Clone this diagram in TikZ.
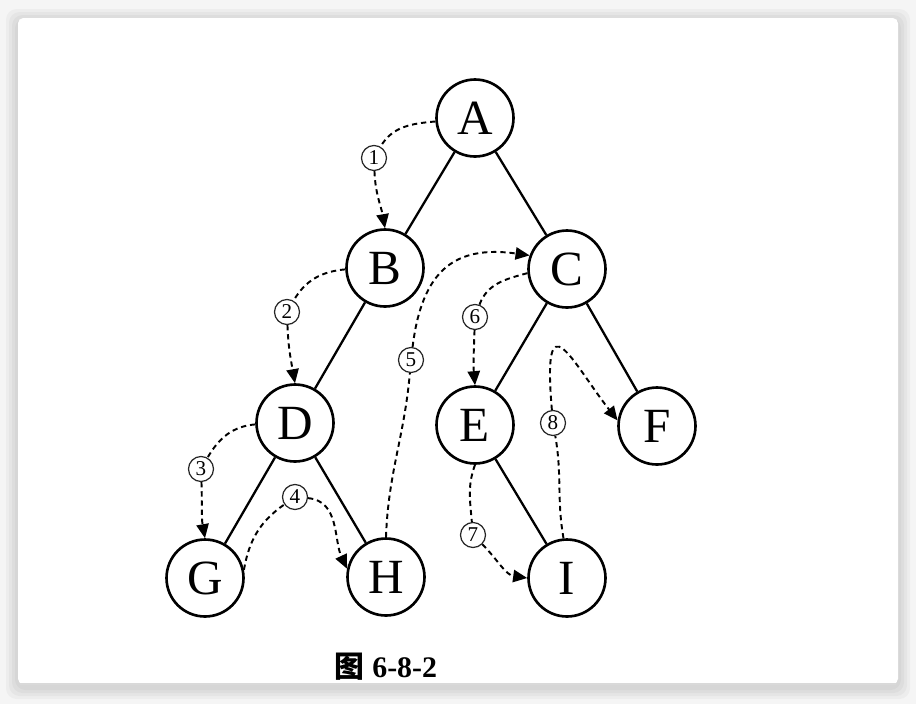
\documentclass[tikz,border=0pt]{standalone}
\usepackage{fontspec}
\setmainfont{Liberation Serif}
\newfontfamily\cjk{Noto Sans CJK SC}
\usetikzlibrary{arrows.meta}

\tikzset{
  vtx/.style={draw, circle, line width=1.5pt, minimum size=1.54cm, inner sep=0pt,
    font=\fontsize{28}{30}\selectfont},
  num/.style={draw=black!85, circle, line width=0.7pt, minimum size=0.5cm, inner sep=0pt,
    font=\fontsize{12}{13}\selectfont},
  branch/.style={line width=1.3pt},
  walk/.style={dash pattern=on 3pt off 2.2pt, line width=1.1pt},
  walkto/.style={walk, -{Triangle[length=8pt,width=7pt]}},
}

\begin{document}
\begin{tikzpicture}[x=0.02cm,y=0.02cm]
  \useasboundingbox (0,0) rectangle (916,-704);

  % Screenshot card
  \fill[black!4] (0,0) rectangle (916,-704);
  \foreach \s in {12,9,6,3}
    \fill[black, opacity=0.03, rounded corners=6pt] ({18-\s},{-18+\s-3}) rectangle ({898+\s},{-684-\s-3});
  \fill[white, rounded corners=3pt] (18,-18) rectangle (898,-684);
  \draw[black!15, line width=1pt] (20,-684) -- (896,-684);

  % Tree nodes
  \node[vtx] (A) at (475,-118) {A};
  \node[vtx] (B) at (385,-268) {B};
  \node[vtx] (C) at (567,-269) {C};
  \node[vtx] (D) at (295,-423) {D};
  \node[vtx] (E) at (475,-425) {E};
  \node[vtx] (F) at (657,-426) {F};
  \node[vtx] (G) at (205,-578) {G};
  \node[vtx] (H) at (386,-577) {H};
  \node[vtx] (I) at (567,-578) {I};

  % Tree edges
  \draw[branch] (A) -- (B);
  \draw[branch] (A) -- (C);
  \draw[branch] (B) -- (D);
  \draw[branch] (C) -- (E);
  \draw[branch] (C) -- (F);
  \draw[branch] (D) -- (G);
  \draw[branch] (D) -- (H);
  \draw[branch] (E) -- (I);

  % Step numbers
  \node[num] (l1) at (374,-158) {1};
  \node[num] (l2) at (287,-312) {2};
  \node[num] (l3) at (201,-469) {3};
  \node[num] (l4) at (295,-497) {4};
  \node[num] (l5) at (411,-360) {5};
  \node[num] (l6) at (475,-317) {6};
  \node[num] (l7) at (473,-535) {7};
  \node[num] (l8) at (553,-423) {8};

  % Traversal path
  \draw[walk] (A.185) to[out=185,in=60] (l1);
  \draw[walkto] (l1) to[out=-88,in=100] (B.north);
  \draw[walk] (B.182) to[out=185,in=60] (l2);
  \draw[walkto] (l2) to[out=-88,in=100] (D.north);
  \draw[walk] (D.182) to[out=185,in=60] (l3);
  \draw[walkto] (l3) to[out=-88,in=100] (G.north);
  \draw[walk] (G.12) to[out=80,in=215] (l4);
  \draw[walkto] (l4) to[out=-5,in=115] (H.168);
  \draw[walk] (H.north) to[out=88,in=-95] (l5);
  \draw[walkto] (l5) .. controls (422,-270) and (455,-245) .. (C.160);
  \draw[walk] (C.186) to[out=195,in=70] (l6);
  \draw[walkto] (l6) to[out=-92,in=95] (E.north);
  \draw[walk] (E.south) to[out=-110,in=95] (l7);
  \draw[walkto] (l7) to[out=-45,in=172] (I.west);
  \draw[walk] (I.95) to[out=100,in=-80] (l8);
  \draw[walkto] (l8) .. controls (542,-295) and (572,-362) .. (F.172);

  % Caption
  \node (cap) at (386,-667) {\fontsize{17}{20}\selectfont{\cjk\bfseries 图} \textbf{6-8-2}};
\end{tikzpicture}
\end{document}
